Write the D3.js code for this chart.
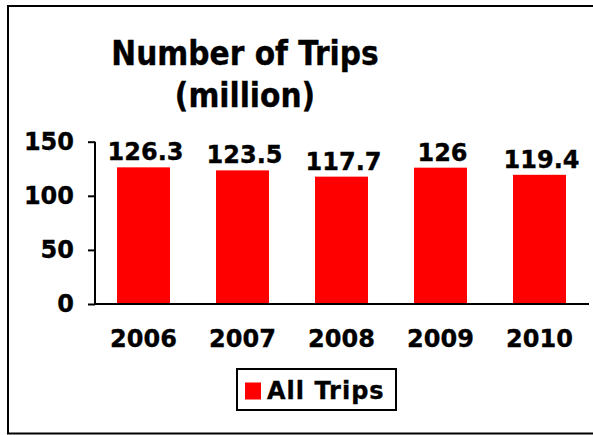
<!DOCTYPE html>
<html>
<head>
<meta charset="utf-8">
<script src="https://cdn.jsdelivr.net/npm/d3@7"></script>
<style>
  html, body { margin: 0; padding: 0; background: #fff; }
  svg { display: block; }
  text { font-family: "DejaVu Sans", Verdana, sans-serif; font-weight: bold; fill: #000; stroke: #000; stroke-width: 0.35px; }
</style>
</head>
<body>
<script>
const categories = ["2006", "2007", "2008", "2009", "2010"];
const values = [126.3, 123.5, 117.7, 126, 119.4];
const valueLabels = ["126.3", "123.5", "117.7", "126", "119.4"];
const yTicks = [0, 50, 100, 150];
const titleLines = ["Number of Trips", "(million)"];
const seriesName = "All Trips";

const W = 593, H = 435;
const svg = d3.select("body").append("svg").attr("width", W).attr("height", H);

// outer frame
svg.append("rect").attr("x", 8).attr("y", 6).attr("width", 620).attr("height", 427.5)
  .attr("fill", "#fff").attr("stroke", "#000").attr("stroke-width", 2);

// title
const title = svg.append("g");
titleLines.forEach((t, i) => {
  title.append("text")
    .attr("x", 245).attr("y", 65 + i * 41.7)
    .attr("text-anchor", "middle")
    .style("font-family", "'DejaVu Sans Condensed', 'DejaVu Sans', sans-serif")
    .style("font-stretch", "condensed")
    .style("font-size", "33px")
    .text(t);
});

const x = d3.scaleBand().domain(categories).range([94, 589]).paddingInner(0.465).paddingOuter(0.2325);
const y = d3.scaleLinear().domain([0, 150]).range([304, 141.7]);

// bars
svg.append("g").selectAll("rect").data(values).join("rect")
  .attr("x", (d, i) => x(categories[i]))
  .attr("y", d => y(d))
  .attr("width", x.bandwidth())
  .attr("height", d => y(0) - y(d))
  .attr("fill", "#ff0000");

// value labels
svg.append("g").selectAll("text").data(values).join("text")
  .attr("x", (d, i) => x(categories[i]) + x.bandwidth() / 2 + 2)
  .attr("y", d => y(d) - 7)
  .attr("text-anchor", "middle")
  .style("font-size", "24px")
  .text((d, i) => valueLabels[i]);

// y axis
const yAxis = svg.append("g").attr("transform", "translate(95,0)")
  .call(d3.axisLeft(y).tickValues(yTicks).tickSize(7).tickPadding(14).tickFormat(d3.format("d")));
yAxis.select(".domain").attr("stroke", "#000").attr("stroke-width", 2).attr("d", `M0,${y(150)}V${y(0)}`);
yAxis.selectAll(".tick line").attr("stroke", "#000").attr("stroke-width", 2);
yAxis.selectAll(".tick text").style("font-size", "24px").style("font-family", "'DejaVu Sans', Verdana, sans-serif").style("font-weight", "bold").attr("fill", "#000");

// x axis
const xAxis = svg.append("g").attr("transform", `translate(0,${y(0)})`)
  .call(d3.axisBottom(x).tickSize(0).tickPadding(26));
xAxis.select(".domain").attr("stroke", "#000").attr("stroke-width", 2).attr("d", `M94,0H589`);
xAxis.selectAll(".tick text").style("font-size", "24px").style("font-family", "'DejaVu Sans', Verdana, sans-serif").style("font-weight", "bold").attr("fill", "#000");

// legend
const lg = svg.append("g");
lg.append("rect").attr("x", 237).attr("y", 369).attr("width", 159).attr("height", 41)
  .attr("fill", "#fff").attr("stroke", "#000").attr("stroke-width", 2);
lg.append("rect").attr("x", 245).attr("y", 382.5).attr("width", 16).attr("height", 17).attr("fill", "#ff0000").attr("stroke", "none");
lg.append("text").attr("x", 267).attr("y", 399).style("font-size", "24px").style("letter-spacing", "1px").text(seriesName);
</script>
</body>
</html>
